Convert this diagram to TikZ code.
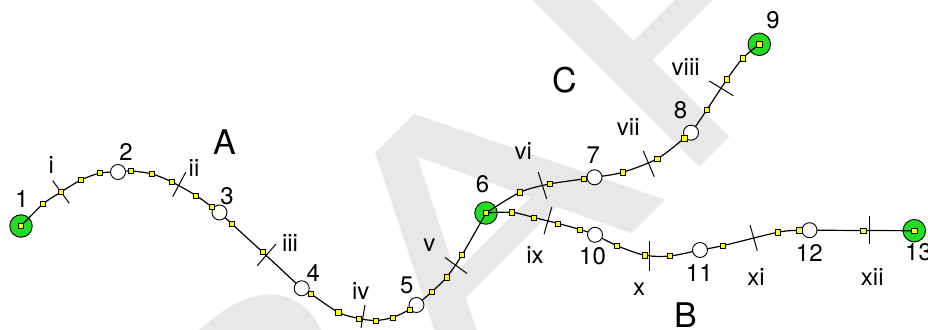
\documentclass[tikz,border=0pt]{standalone}
\usepackage{fontspec}
\setmainfont{TeX Gyre Heros}
\pgfdeclarelayer{wm}
\pgfdeclarelayer{bottom}
\pgfdeclarelayer{lines}
\pgfsetlayers{wm,bottom,lines,main}
\definecolor{nodegreen}{RGB}{34,221,34}
\definecolor{sqyellow}{RGB}{255,255,0}
\definecolor{wmgray}{RGB}{232,232,232}
\begin{document}
\begin{tikzpicture}[x=1pt,y=-1pt,
  gnode/.style={circle, draw=black, line width=0.9pt, fill=nodegreen, minimum size=22.5pt, inner sep=0pt},
  wnode/.style={circle, draw=black, line width=0.9pt, fill=white, minimum size=15pt, inner sep=0pt},
  sq/.style={rectangle, draw=black, line width=0.7pt, fill=sqyellow, minimum size=5.3pt, inner sep=0pt},
  route/.style={line width=1.2pt, black},
  tickline/.style={line width=1pt, black},
  lab/.style={font=\fontsize{24}{24}\selectfont, inner sep=0pt, anchor=center},
  big/.style={font=\fontsize{34}{34}\selectfont, inner sep=0pt, anchor=center},
  wmtext/.style={text=wmgray, font=\fontsize{327}{327}\selectfont, inner sep=0pt, anchor=center, rotate=45, xscale=1.4}
]
\useasboundingbox (0,0) rectangle (928,329);
% watermark
\begin{pgfonlayer}{wm}
\begin{scope}
\clip (0,0) rectangle (928,329);
\begin{scope}[shift={(442.7,255.6)}]
\node[wmtext] (wmark) at (0,0) {DRAFT};
\end{scope}
\end{scope}
\end{pgfonlayer}
% terminal (green) nodes
\begin{pgfonlayer}{bottom}
\node[gnode] (n1) at (21,226) {};
\node[gnode] (n6) at (486,213) {};
\node[gnode] (n9) at (759.3,44.3) {};
\node[gnode] (n13) at (914.3,230.7) {};
\end{pgfonlayer}
% white nodes
\node[wnode] (n2) at (118,172) {};
\node[wnode] (n3) at (219.5,212.5) {};
\node[wnode] (n4) at (301.7,288.3) {};
\node[wnode] (n5) at (416.5,305) {};
\node[wnode] (n7) at (594.5,177.3) {};
\node[wnode] (n8) at (691,132.7) {};
\node[wnode] (n10) at (595,234.8) {};
\node[wnode] (n11) at (700,250) {};
\node[wnode] (n12) at (809.5,230.2) {};
% tick marks
\coordinate (k1a) at (52.7,180.7);  \coordinate (k1b) at (69.3,203.3);
\coordinate (k2a) at (185.7,172.3); \coordinate (k2b) at (172.7,196.7);
\coordinate (k3a) at (257.3,265.7); \coordinate (k3b) at (276,244);
\coordinate (k4a) at (365,305);     \coordinate (k4b) at (361,328);
\coordinate (k5a) at (445,257.5);   \coordinate (k5b) at (467,273.5);
\coordinate (k6a) at (538.3,172.3); \coordinate (k6b) at (546.7,199);
\coordinate (k7a) at (643.3,151);   \coordinate (k7b) at (654.3,176.7);
\coordinate (k8a) at (709.3,81);    \coordinate (k8b) at (733.3,95.7);
\coordinate (k9a) at (551.7,207.3); \coordinate (k9b) at (544,234.3);
\coordinate (k10a) at (649.5,241);  \coordinate (k10b) at (649.5,271);
\coordinate (k11a) at (750,225);    \coordinate (k11b) at (757.3,250.7);
\coordinate (k12a) at (869,216);    \coordinate (k12b) at (869,244.3);
\foreach \k in {1,...,12} {\draw[tickline] (k\k a) -- (k\k b);}
% squares at terminals
\node[sq] (s1) at (n1.center) {};
\node[sq] (s6) at (n6.center) {};
\node[sq] (s9) at (n9.center) {};
\node[sq] (s13) at (n13.center) {};
% squares route A
\node[sq] (a1) at (43,204) {};
\node[sq] (a2) at (61,192) {};
\node[sq] (a3) at (81,180) {};
\node[sq] (a4) at (100,173) {};
\node[sq] (a5) at (131,171) {};
\node[sq] (a6) at (152,174) {};
\node[sq] (a7) at (172,182) {};
\node[sq] (a8) at (196,195.5) {};
\node[sq] (a9) at (212,207) {};
\node[sq] (a10) at (232,224) {};
\node[sq] (a11) at (262.5,252) {};
\node[sq] (a12) at (311,294) {};
\node[sq] (a13) at (338.3,312.3) {};
\node[sq] (a14) at (359,318.5) {};
\node[sq] (a15) at (375.5,320.5) {};
\node[sq] (a16) at (392.5,317.5) {};
\node[sq] (a17) at (410,309.5) {};
\node[sq] (a18) at (431.6,292) {};
\node[sq] (a19) at (446.6,277.2) {};
\node[sq] (a20) at (462,255) {};
% squares route C
\node[sq] (c1) at (520,192.3) {};
\node[sq] (c2) at (549.5,184) {};
\node[sq] (c3) at (583.5,179) {};
\node[sq] (c4) at (622.7,172.3) {};
\node[sq] (c5) at (657.3,158.7) {};
\node[sq] (c6) at (684.3,138.3) {};
\node[sq] (c7) at (706.7,110) {};
\node[sq] (c8) at (727,79.3) {};
\node[sq] (c9) at (742.7,58.3) {};
% squares route B
\node[sq] (b1) at (512,212.3) {};
\node[sq] (b2) at (534,217.5) {};
\node[sq] (b3) at (558,223.5) {};
\node[sq] (b4) at (580,229.5) {};
\node[sq] (b5) at (617,245.7) {};
\node[sq] (b6) at (644.5,255.2) {};
\node[sq] (b7) at (670,256) {};
\node[sq] (b8) at (722.7,245.7) {};
\node[sq] (b9) at (777.7,232.3) {};
\node[sq] (b10) at (799.3,230.3) {};
\node[sq] (b11) at (863.3,230.5) {};
% routes
\begin{pgfonlayer}{lines}
\draw[route] plot[smooth] coordinates {(n1.center) (a1.center) (a2.center) (a3.center) (a4.center) (n2.center) (a5.center) (a6.center) (a7.center) (a8.center) (a9.center) (n3.center) (a10.center) (a11.center) (n4.center) (a12.center) (a13.center) (a14.center) (a15.center) (a16.center) (a17.center) (n5.center) (a18.center) (a19.center) (a20.center) (n6.center)};
\draw[route] plot[smooth] coordinates {(n6.center) (c1.center) (c2.center) (c3.center) (n7.center) (c4.center) (c5.center) (c6.center) (n8.center) (c7.center) (c8.center) (c9.center) (n9.center)};
\draw[route] plot[smooth] coordinates {(n6.center) (b1.center) (b2.center) (b3.center) (b4.center) (n10.center) (b5.center) (b6.center) (b7.center) (n11.center) (b8.center) (b9.center) (b10.center) (n12.center)};
\draw[route] (n12.center) -- (b11.center) -- (n13.center);
\end{pgfonlayer}
% node labels
\node[lab] (l1) at (21.7,198.7) {1};
\node[lab] (l2) at (126,152) {2};
\node[lab] (l3) at (227,196) {3};
\node[lab] (l4) at (313.3,272.5) {4};
\node[lab] (l5) at (406.7,285) {5};
\node[lab] (l6) at (482.5,184.5) {6};
\node[lab] (l7) at (593.3,155) {7};
\node[lab] (l8) at (680.5,110) {8};
\node[lab] (l9) at (773,20) {9};
\node[lab] (l10) at (592.5,256) {10};
\node[lab] (l11) at (699.3,273.3) {11};
\node[lab] (l12) at (809.3,253.3) {12};
\node[lab] (l13) at (918.5,252) {13};
% segment labels
\node[lab] (r1) at (51.3,165) {i};
\node[lab] (r2) at (194,168.5) {ii};
\node[lab] (r3) at (290,243.3) {iii};
\node[lab] (r4) at (360.7,290.7) {iv};
\node[lab] (r5) at (429.3,245.7) {v};
\node[lab] (r6) at (523.3,150.7) {vi};
\node[lab] (r7) at (628.3,127.3) {vii};
\node[lab] (r8) at (685.7,66.7) {viii};
\node[lab] (r9) at (535,255) {ix};
\node[lab] (r10) at (639,289.3) {x};
\node[lab] (r11) at (756,276.7) {xi};
\node[lab] (r12) at (872.3,276.7) {xii};
% route names
\node[big] (rA) at (225,142) {A};
\node[big] (rB) at (686,315.5) {B};
\node[big] (rC) at (565,80) {C};
\end{tikzpicture}
\end{document}
